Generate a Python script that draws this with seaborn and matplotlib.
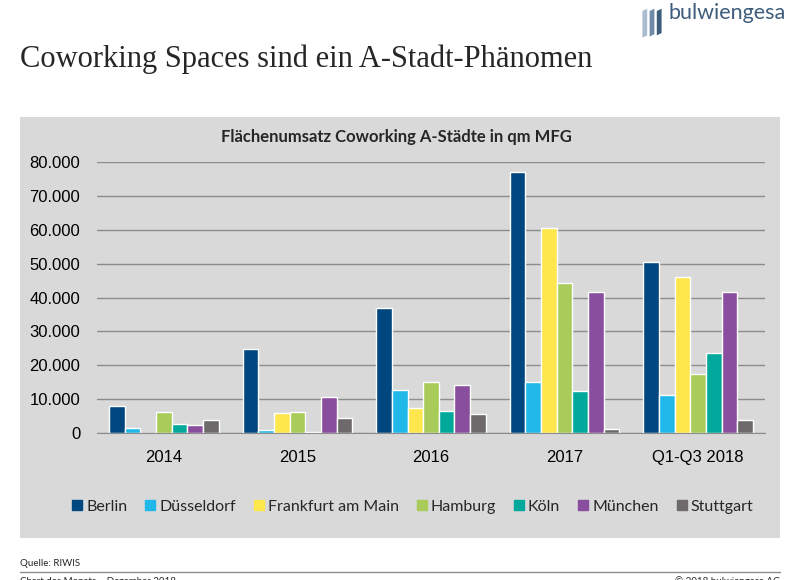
import matplotlib
matplotlib.use("Agg")
import matplotlib.pyplot as plt
from matplotlib.patches import Rectangle, Polygon
from matplotlib.lines import Line2D
import seaborn as sns
import pandas as pd

# Flächenumsatz in qm MFG
years = ['2014', '2015', '2016', '2017', 'Q1-Q3 2018']
cities = ['Berlin', 'Düsseldorf', 'Frankfurt am Main', 'Hamburg', 'Köln', 'München', 'Stuttgart']
berlin = [8000, 24900, 36900, 77000, 50600]
duesseldorf = [1600, 1000, 12600, 15000, 11300]
frankfurt = [0, 5900, 7500, 60500, 46100]
hamburg = [6100, 6200, 15000, 44200, 17500]
koeln = [2700, 400, 6600, 12400, 23700]
muenchen = [2300, 10500, 14100, 41700, 41600]
stuttgart = [3700, 4500, 5600, 1200, 3900]
colors = ['#00467F', '#20B8E8', '#FDE74C', '#A8CB5A', '#00A99C', '#8A4E9E', '#6E6A6B']

series = [berlin, duesseldorf, frankfurt, hamburg, koeln, muenchen, stuttgart]
rows = []
for city, vals in zip(cities, series):
    for y, v in zip(years, vals):
        rows.append({'Jahr': y, 'Stadt': city, 'qm': v})
df = pd.DataFrame(rows)

sns.set_style("white")
plt.rcParams['font.family'] = ['Liberation Sans', 'DejaVu Sans']

fig = plt.figure(figsize=(8, 5.8), dpi=100)

# grauer Hintergrund
fig.patches.append(Rectangle((0.025, 0.0724), 0.95, 0.7259, transform=fig.transFigure,
                             facecolor='#D9D9D9', edgecolor='none', zorder=-5))

ax = fig.add_axes([0.12125, 0.2534, 0.835, 0.4672])
ax.set_zorder(2)
ax.set_facecolor('none')
sns.barplot(data=df, x='Jahr', y='qm', hue='Stadt', hue_order=cities, order=years,
            palette=colors, width=0.82, saturation=1, ax=ax, legend=False)

ax.set_ylim(0, 80000)
ax.set_yticks(range(0, 80001, 10000))
ax.set_yticklabels(['0' if t == 0 else f'{t // 1000}.000' for t in range(0, 80001, 10000)])
ax.yaxis.grid(True, color='#8C8C8C', linewidth=1)
ax.set_axisbelow(True)
for s in ['left', 'right', 'top']:
    ax.spines[s].set_visible(False)
ax.spines['bottom'].set_color('#8C8C8C')
ax.tick_params(axis='y', length=0, pad=12, labelsize=12, colors='black')
ax.tick_params(axis='x', length=0, pad=12, labelsize=12, colors='black')
ax.set_xlabel('')
ax.set_ylabel('')

# Legende
handles = [Line2D([], [], marker='s', linestyle='none', markersize=7.5,
                  markerfacecolor=c, markeredgecolor=c) for c in colors]
fig.legend(handles, cities, loc='center', bbox_to_anchor=(0.516, 0.126), ncol=7,
           frameon=False, handlelength=0.6, handletextpad=0.25, columnspacing=1.15,
           prop={'family': 'Lato', 'size': 11.5})

# Titel
fig.text(0.025, 0.898, 'Coworking Spaces sind ein A-Stadt-Phänomen',
         family='Liberation Serif', fontsize=22, va='center', ha='left')
fig.text(0.495, 0.7638, 'Flächenumsatz Coworking A-Städte in qm MFG',
         family='Lato', fontweight='bold', fontsize=12, ha='center', va='center')

# Logo
logo_color = '#3E5C7C'
for i, (x0, h) in enumerate([(0.803, 0.03), (0.812, 0.028), (0.821, 0.026)]):
    fig.patches.append(Polygon([(x0, 0.965 - h), (x0 + 0.006, 0.965 - h + 0.004),
                                (x0 + 0.006, 0.985), (x0, 0.981)],
                               closed=True, transform=fig.transFigure,
                               facecolor=['#A9BCD0', '#6F8BA8', logo_color][i], edgecolor='none'))
fig.text(0.835, 0.978, 'bulwiengesa', family='Lato', fontsize=15.5,
         color=logo_color, ha='left', va='center')

# Fußzeile
fig.text(0.025, 0.029, 'Quelle: RIWIS', family='Lato', fontsize=7, va='center')
fig.add_artist(Line2D([0.025, 0.975], [0.014, 0.014], transform=fig.transFigure,
                      color='#8C8C8C', linewidth=1))
fig.text(0.025, -0.002, 'Chart des Monats – Dezember 2018', family='Lato', fontsize=7, va='center')
fig.text(0.975, -0.002, '© 2018 bulwiengesa AG', family='Lato', fontsize=7,
         va='center', ha='right')

fig.savefig('out.png', dpi=100)
